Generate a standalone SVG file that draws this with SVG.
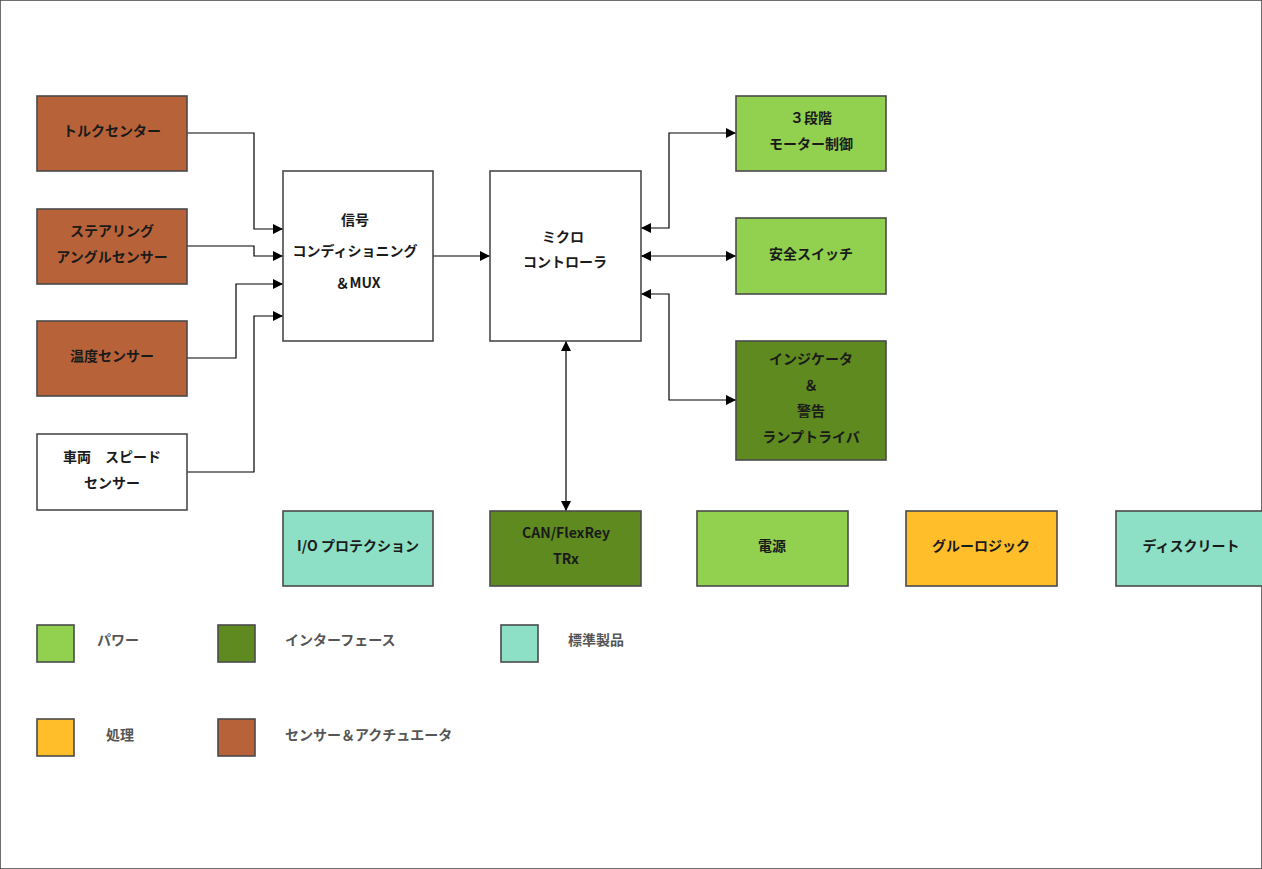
<svg xmlns="http://www.w3.org/2000/svg" width="1262" height="869" viewBox="0 0 1262 869">
<defs>
<style>
rect{stroke:#4a4a4a;stroke-width:1.6}
.s{fill:#B86239}.w{fill:#fff}.p{fill:#92D050}.i{fill:#5E8A1F}.t{fill:#8DDFC5}.o{fill:#FFBE2A}
text{font-family:"Noto Sans CJK JP","Noto Sans",sans-serif;font-size:14px;font-weight:bold;fill:#1a1a1a;text-anchor:middle}
.l{fill:#555;text-anchor:start;font-size:14px}
.c{fill:none;stroke:#000;stroke-width:1.2}
</style>
<marker id="a" viewBox="0 0 10 10" refX="10" refY="5" markerWidth="10" markerHeight="10" markerUnits="userSpaceOnUse" orient="auto-start-reverse"><path d="M0,0L10,5L0,10z" fill="#000"/></marker>
</defs>
<rect x="0" y="0" width="1262" height="869" fill="#fff" stroke="none"/>
<g id="connectors">
<path class="c" d="M187,133H254V229H283" marker-end="url(#a)"/>
<path class="c" d="M187,246H254V256H283" marker-end="url(#a)"/>
<path class="c" d="M187,358H236V284H283" marker-end="url(#a)"/>
<path class="c" d="M187,472H254V316H283" marker-end="url(#a)"/>
<path class="c" d="M433,256H490" marker-end="url(#a)"/>
<path class="c" d="M641,228H669V133H736" marker-start="url(#a)" marker-end="url(#a)"/>
<path class="c" d="M641,256H736" marker-start="url(#a)" marker-end="url(#a)"/>
<path class="c" d="M641,294H669V400H736" marker-start="url(#a)" marker-end="url(#a)"/>
<path class="c" d="M566,341V511" marker-start="url(#a)" marker-end="url(#a)"/>
</g>
<g id="torque"><rect class="s" x="37" y="96" width="150" height="75"/><text x="112" y="136">トルクセンター</text></g>
<g id="steering"><rect class="s" x="37" y="209" width="150" height="75"/><text x="112" y="236">ステアリング</text><text x="112" y="262">アングルセンサー</text></g>
<g id="temp"><rect class="s" x="37" y="321" width="150" height="75"/><text x="112" y="361">温度センサー</text></g>
<g id="speed"><rect class="w" x="37" y="434" width="150" height="76"/><text x="112" y="462">車両　スピード</text><text x="112" y="488">センサー</text></g>
<g id="signal"><rect class="w" x="283" y="171" width="150" height="170"/><text x="355" y="225">信号</text><text x="355" y="256">コンディショニング</text><text x="358" y="288">＆MUX</text></g>
<g id="mcu"><rect class="w" x="490" y="171" width="151" height="170"/><text x="563" y="242">ミクロ</text><text x="565" y="267">コントローラ</text></g>
<g id="motor"><rect class="p" x="736" y="96" width="150" height="75"/><text x="811" y="123">３段階</text><text x="811" y="149">モーター制御</text></g>
<g id="safety"><rect class="p" x="736" y="218" width="150" height="76"/><text x="811" y="259">安全スイッチ</text></g>
<g id="indicator"><rect class="i" x="736" y="341" width="150" height="119"/><text x="811" y="364">インジケータ</text><text x="811" y="390">＆</text><text x="811" y="416">警告</text><text x="811" y="442">ランプトライバ</text></g>
<g id="io"><rect class="t" x="283" y="511" width="150" height="75"/><text x="358" y="551">I/O プロテクション</text></g>
<g id="can"><rect class="i" x="490" y="511" width="151" height="75"/><text x="566" y="538">CAN/FlexRey</text><text x="566" y="564">TRx</text></g>
<g id="power"><rect class="p" x="697" y="511" width="151" height="75"/><text x="772" y="551">電源</text></g>
<g id="glue"><rect class="o" x="906" y="511" width="151" height="75"/><text x="981" y="551">グルーロジック</text></g>
<g id="discrete"><rect class="t" x="1116" y="511" width="150" height="75"/><text x="1191" y="551">ディスクリート</text></g>
<g id="legend">
<rect class="p" x="37" y="625" width="37" height="37"/><text class="l" x="97" y="645">パワー</text>
<rect class="i" x="218" y="625" width="37" height="37"/><text class="l" x="285" y="645">インターフェース</text>
<rect class="t" x="501" y="625" width="37" height="37"/><text class="l" x="568" y="645">標準製品</text>
<rect class="o" x="37" y="719" width="37" height="37"/><text class="l" x="106" y="740">処理</text>
<rect class="s" x="218" y="719" width="37" height="37"/><text class="l" x="285" y="740">センサー＆アクチュエータ</text>
</g>
</svg>
